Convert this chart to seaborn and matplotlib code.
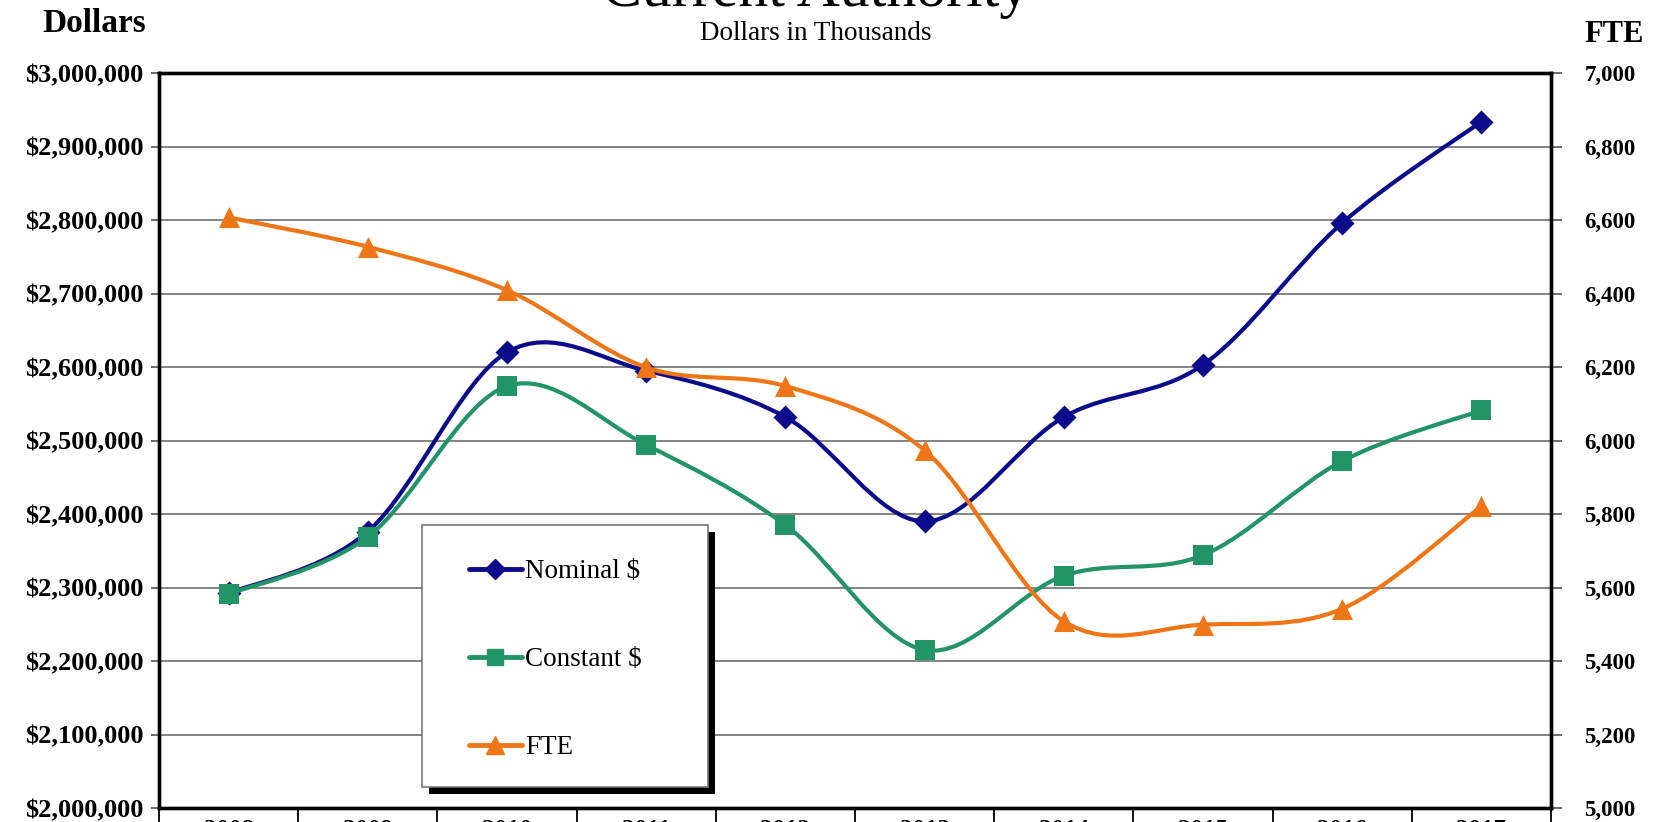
import numpy as np
import matplotlib
matplotlib.use("Agg")
import matplotlib.pyplot as plt
import seaborn as sns
import pandas as pd
from matplotlib.path import Path
from matplotlib.patches import PathPatch, Rectangle
from matplotlib.lines import Line2D
from matplotlib.ticker import FuncFormatter, MultipleLocator, FixedLocator

# ---------------- data ----------------
years = ["2008", "2009", "2010", "2011", "2012", "2013", "2014", "2015", "2016", "2017"]
nominal = [2292000, 2376000, 2620000, 2595000, 2532000, 2390000, 2532000, 2603000, 2796000, 2934000]
constant = [2291000, 2369000, 2574000, 2494000, 2385000, 2215000, 2316000, 2344000, 2472000, 2541000]
fte = [6607, 6527, 6409, 6199, 6148, 5973, 5508, 5499, 5542, 5821]

series_names = ["Nominal $", "Constant $", "FTE"]
colors = {"Nominal $": "#0B0B8C", "Constant $": "#239467", "FTE": "#EF7617"}
markers = {"Nominal $": "D", "Constant $": "s", "FTE": "^"}
marker_area = {"Nominal $": 150, "Constant $": 200, "FTE": 230}

sns.set_style("white")
plt.rcParams["font.family"] = ["Liberation Serif", "DejaVu Serif"]
plt.rcParams["text.color"] = "black"
plt.rcParams["xtick.color"] = "black"
plt.rcParams["ytick.color"] = "black"

W, H = 1654, 822
fig = plt.figure(figsize=(W / 100, H / 100), dpi=100)
ax = fig.add_axes([159 / W, 1 - 808 / H, (1551 - 159) / W, (808 - 73) / H])
ax2 = ax.twinx()

x = np.arange(len(years))


def smooth_path(xs, ys):
    """Excel-like smoothed line as cubic Bezier segments (Catmull-Rom control points)."""
    xs = np.asarray(xs, float)
    ys = np.asarray(ys, float)
    n = len(xs)
    verts = [(xs[0], ys[0])]
    codes = [Path.MOVETO]
    for i in range(n - 1):
        p0 = np.array([xs[max(i - 1, 0)], ys[max(i - 1, 0)]])
        p1 = np.array([xs[i], ys[i]])
        p2 = np.array([xs[i + 1], ys[i + 1]])
        p3 = np.array([xs[min(i + 2, n - 1)], ys[min(i + 2, n - 1)]])
        c1 = p1 + (p2 - p0) / 6.0
        c2 = p2 - (p3 - p1) / 6.0
        verts += [tuple(c1), tuple(c2), tuple(p2)]
        codes += [Path.CURVE4, Path.CURVE4, Path.CURVE4]
    return Path(verts, codes)


lw = 3.0

df = pd.DataFrame({"x": x, "Nominal $": nominal, "Constant $": constant, "FTE": fte})

for name, axis, zo in [("Nominal $", ax, 3), ("Constant $", ax, 4)]:
    axis.add_patch(PathPatch(smooth_path(x, df[name]), facecolor="none",
                             edgecolor=colors[name], lw=lw, zorder=zo, capstyle="round"))
    sns.scatterplot(data=df, x="x", y=name, ax=axis, color=colors[name],
                    marker=markers[name], s=marker_area[name],
                    edgecolor=colors[name], linewidth=0, zorder=zo + 0.5, legend=False)

ax2.add_patch(PathPatch(smooth_path(x, df["FTE"]), facecolor="none",
                        edgecolor=colors["FTE"], lw=lw, zorder=3, capstyle="round"))
sns.scatterplot(data=df, x="x", y="FTE", ax=ax2, color=colors["FTE"], marker="^",
                s=marker_area["FTE"], edgecolor=colors["FTE"], linewidth=0, zorder=3.5, legend=False)

# ---------------- axes ----------------
ax.set_xlim(-0.5, len(years) - 0.5)
ax.set_ylim(2000000, 3000000)
ax2.set_ylim(5000, 7000)

ax.yaxis.set_major_locator(MultipleLocator(100000))
ax.yaxis.set_major_formatter(FuncFormatter(lambda v, p: f"${v:,.0f}"))
ax2.yaxis.set_major_locator(MultipleLocator(200))
ax2.yaxis.set_major_formatter(FuncFormatter(lambda v, p: f"{v:,.0f}"))

ax.set_xticks(x)
ax.set_xticklabels(years)
ax.xaxis.set_minor_locator(FixedLocator(np.arange(-0.5, len(years), 1.0)))
ax.tick_params(axis="x", which="major", length=0, pad=8, labelsize=18, bottom=True)
ax.tick_params(axis="x", which="minor", length=30, width=1.3, color="black",
               direction="out", bottom=True)
for lab in ax.get_xticklabels():
    lab.set_fontweight("bold")

ax.tick_params(axis="y", which="major", length=6, width=1.2, color="#555555",
               direction="out", pad=5, labelsize=19, left=True)
ax2.tick_params(axis="y", which="major", length=8, width=1.2, color="#555555",
                direction="out", pad=16, labelsize=16.5, right=True)
for lab in ax.get_yticklabels() + ax2.get_yticklabels():
    lab.set_fontweight("bold")

ax.set_xlabel("")
ax.set_ylabel("")
ax2.set_xlabel("")
ax2.set_ylabel("")

ax.grid(axis="y", color="#7a7a7a", lw=1.3)
ax.set_axisbelow(True)
ax2.grid(False)

for a in (ax, ax2):
    for sp in a.spines.values():
        sp.set_visible(True)
        sp.set_color("black")
        sp.set_linewidth(2.4)

# ---------------- texts ----------------
fig.text(816 / W, 1 - 6 / H, "Current Authority", ha="center", va="baseline", fontsize=43)
fig.text(816 / W, 1 - 34 / H, "Dollars in Thousands", ha="center", va="center", fontsize=19.5)
fig.text(94 / W, 1 - 23 / H, "Dollars", ha="center", va="center", fontsize=24, fontweight="bold")
fig.text(1614 / W, 1 - 34 / H, "FTE", ha="center", va="center", fontsize=22, fontweight="bold")

# ---------------- legend ----------------
shadow = Rectangle(((422 + 7) / W, 1 - (787 + 7) / H), (708 - 422) / W, (787 - 525) / H,
                   transform=fig.transFigure, facecolor="black", edgecolor="none", zorder=10)
frame = Rectangle((422 / W, 1 - 787 / H), (708 - 422) / W, (787 - 525) / H,
                  transform=fig.transFigure, facecolor="white", edgecolor="#777777", lw=1.2, zorder=11)
fig.add_artist(shadow)
fig.add_artist(frame)

handles = [Line2D([], [], color=colors[n], lw=3.5, marker=markers[n],
                  markersize={"Nominal $": 10, "Constant $": 12, "FTE": 13}[n]) for n in series_names]
leg = fig.legend(handles, series_names, loc="upper left", bbox_to_anchor=(469 / W, 1 - 559 / H),
                 frameon=False, fontsize=19.5, labelspacing=2.33, handlelength=1.95,
                 handletextpad=0.12, borderpad=0, borderaxespad=0)
leg.set_zorder(12)

fig.savefig("out.png", dpi=100)
